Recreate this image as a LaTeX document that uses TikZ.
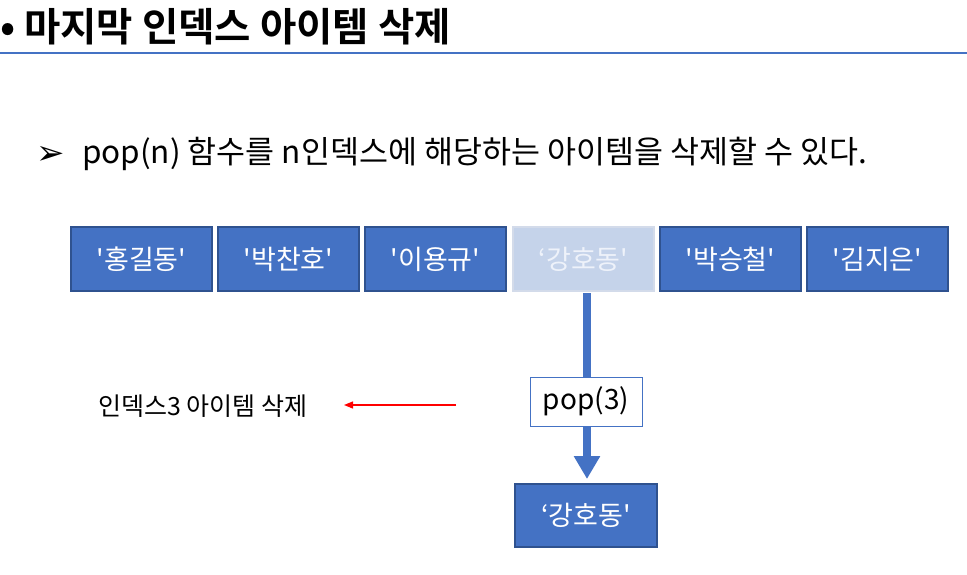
\documentclass[tikz,border=0pt]{standalone}
\usepackage{fontspec}
\setmainfont{Noto Sans CJK KR}
\newfontfamily\kr{Noto Sans CJK KR}
\newfontfamily\krb{Noto Sans CJK KR Bold}
\newfontfamily\dv{DejaVu Sans}
\usetikzlibrary{arrows.meta}
\definecolor{blu}{HTML}{4472C4}
\definecolor{blud}{HTML}{2F528F}
\definecolor{lblu}{HTML}{C5D3EA}
\definecolor{lbord}{HTML}{D3DBEA}
\definecolor{ltext}{HTML}{EEF2FA}
\tikzset{
  item/.style={draw=blud, fill=blu, line width=2pt, minimum width=141pt, minimum height=64pt, inner sep=0pt, text=white, font=\kr\fontsize{27}{30}\selectfont},
  ghost/.style={item, draw=lbord, fill=lblu, text=ltext},
  popbox/.style={draw=blu, fill=white, line width=1pt, minimum width=112pt, minimum height=49pt, inner sep=0pt, font=\kr\fontsize{28}{32}\selectfont},
}
\begin{document}
\begin{tikzpicture}[x=1pt,y=-1pt]
\useasboundingbox (0,0) rectangle (967,574);
% title
\node[anchor=base west, inner sep=0pt, font=\krb\fontsize{40}{44}\selectfont] (bul) at (0,41) {•};
\node[anchor=base west, inner sep=0pt, font=\krb\fontsize{39.5}{44}\selectfont] (title) at (24,41) {마지막 인덱스 아이템 삭제};
\draw[blu, line width=1.2pt] (0,53) coordinate (l1) -- (967,53) coordinate (l2);
% subtitle
\node[anchor=base west, inner sep=0pt, font=\dv\fontsize{34}{36}\selectfont] (mark) at (36,164) {➢};
\node[anchor=base west, inner sep=0pt, font=\kr\fontsize{31.5}{34}\selectfont] (sub) at (82,163) {pop(n) 함수를 n인덱스에 해당하는 아이템을 삭제할 수 있다.};
% items
\node[item] (b1) at (141.5,259) {'홍길동'};
\node[item] (b2) at (288.5,259) {'박찬호'};
\node[item] (b3) at (435.5,259) {'이용규'};
\node[ghost] (b4) at (583.5,259) {‘강호동'};
\node[item] (b5) at (730.5,259) {'박승철'};
\node[item] (b6) at (877.5,259) {'김지은'};
% result
\node[item, minimum width=142pt, minimum height=63pt] (res) at (586,515.5) {‘강호동'};
% thick arrow
\coordinate (top) at (587,293);
\coordinate (tip) at (587,479);
\draw[blu, line width=8pt, -{Triangle[width=25pt,length=23pt]}] (top) -- (tip);
\node[popbox] (pop) at (586,401.5) {pop(3)};
% label and red arrow
\node[anchor=west, inner sep=0pt, font=\kr\fontsize{25}{28}\selectfont] (lab) at (98,406) {인덱스3 아이템 삭제};
\coordinate (rs) at (456,405);
\coordinate (re) at (344,405);
\draw[red, line width=1.3pt, -{Triangle[width=7pt,length=9pt]}] (rs) -- (re);
\end{tikzpicture}
\end{document}
